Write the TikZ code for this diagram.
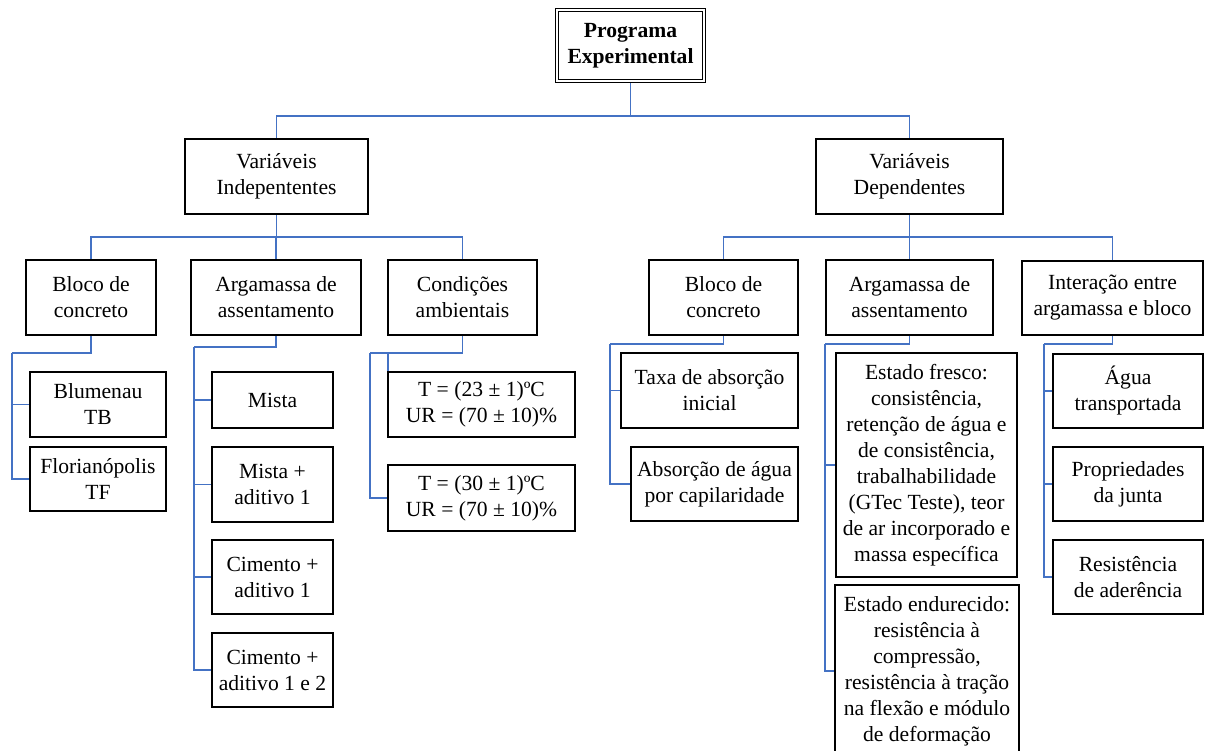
\documentclass[tikz,border=0pt]{standalone}
\usepackage{fontspec}
\setmainfont{Liberation Serif}
\definecolor{conncol}{RGB}{68,114,196}
\pgfdeclarelayer{bg}
\pgfsetlayers{bg,main}
\begin{document}
\begin{tikzpicture}[x=1pt,y=-1pt,
  conn/.style={draw=conncol, line width=1.2pt},
  bx/.style={draw=black, line width=1.1pt, fill=white, align=center, inner sep=0pt,
    font=\fontsize{21.6}{26}\selectfont},
  sz/.style 2 args={minimum width=#1pt, minimum height=#2pt}]
\useasboundingbox (0,0) rectangle (1212,751);

% top
\node[bx, sz={147}{71}, double=white, double distance=2pt, line width=1pt] (prog) at (630.5,45.5) {\textbf{Programa}\\\textbf{Experimental}};
% level 2
\node[bx, sz={183}{75}] (vi) at (276.5,176.5) {Variáveis\\Indepententes};
\node[bx, sz={187}{75}] (vd) at (909.5,176.5) {Variáveis\\Dependentes};
% level 3 left
\node[bx, sz={130}{75}] (lb) at (91,297.5) {Bloco de\\concreto};
\node[bx, sz={170}{75}] (la) at (276,297.5) {Argamassa de\\assentamento};
\node[bx, sz={149}{75}] (lc) at (462.5,297.5) {Condições\\ambientais};
% level 3 right
\node[bx, sz={149}{75}] (rb) at (723.5,297.5) {Bloco de\\concreto};
\node[bx, sz={167}{75}] (ra) at (909.5,297.5) {Argamassa de\\assentamento};
\node[bx, sz={181}{74}] (ri) at (1112.5,298) {Interação entre\\argamassa e bloco};
% leaves under left Bloco
\node[bx, sz={136}{65}] (blu) at (98,404.5) {Blumenau\\TB};
\node[bx, sz={136}{64}] (flo) at (98,479) {Florianópolis\\TF};
% leaves under left Argamassa
\node[bx, sz={121}{56}] (mista) at (272.5,400) {Mista};
\node[bx, sz={121}{75}] (m1) at (272.5,484.5) {Mista +\\aditivo 1};
\node[bx, sz={121}{74}] (c1) at (272.5,577) {Cimento +\\aditivo 1};
\node[bx, sz={121}{74}] (c12) at (272.5,670) {Cimento +\\aditivo 1 e 2};
% leaves under Condicoes
\node[bx, sz={187}{65}] (t23) at (481.5,404.5) {T = (23 ± 1)ºC\\UR = (70 ± 10)\%};
\node[bx, sz={187}{66}] (t30) at (481.5,498) {T = (30 ± 1)ºC\\UR = (70 ± 10)\%};
% leaves under right Bloco
\node[bx, sz={177}{75}] (taxa) at (709.5,390.5) {Taxa de absorção\\inicial};
\node[bx, sz={167}{74}] (abs) at (714.5,484) {Absorção de água\\por capilaridade};
% leaves under right Argamassa
\node[bx, sz={181}{224}] (ef) at (926.5,465) {Estado fresco:\\consistência,\\retenção de água e\\de consistência,\\trabalhabilidade\\(GTec Teste), teor\\de ar incorporado e\\massa específica};
\node[bx, sz={184}{172}] (ee) at (927,671) {Estado endurecido:\\resistência à\\compressão,\\resistência à tração\\na flexão e módulo\\de deformação};
% leaves under Interacao
\node[bx, sz={150}{74}] (agua) at (1128,391) {Água\\transportada};
\node[bx, sz={150}{74}] (prop) at (1128,484) {Propriedades\\da junta};
\node[bx, sz={150}{74}] (res) at (1128,577) {Resistência\\de aderência};

% junction coordinates
\coordinate (j0) at (630.5,116);
\coordinate (jl) at (276.5,237);
\coordinate (jr) at (909.5,237);
\coordinate (jlb) at (12,353);
\coordinate (jla) at (194,347);
\coordinate (jlc) at (370,353);
\coordinate (jlc2) at (388,353);
\coordinate (jrb) at (610,344);
\coordinate (jra) at (825,344);
\coordinate (jri) at (1044,344);

\begin{pgfonlayer}{bg}
\fill[white] (0,0) rectangle (1212,751);
\draw[conn] (prog.south) -- (j0);
\draw[conn] (j0) -| (vi.north);
\draw[conn] (j0) -| (vd.north);

\draw[conn] (vi.south) -- (jl);
\draw[conn] (jl) -| (lb.north);
\draw[conn] (jl) -| (lc.north);
\draw[conn] (jl) -| (la.north);

\draw[conn] (vd.south) -- (jr);
\draw[conn] (jr) -| (rb.north);
\draw[conn] (jr) -| (ri.north);
\draw[conn] (jr) -| (ra.north);

\draw[conn] (lb.south) |- (jlb);
\draw[conn] (jlb) |- (flo.west);
\draw[conn] (jlb) |- (blu.west);

\draw[conn] (la.south) |- (jla);
\draw[conn] (jla) |- (c12.west);
\draw[conn] (jla) |- (c1.west);
\draw[conn] (jla) |- (m1.west);
\draw[conn] (jla) |- (mista.west);

\draw[conn] (lc.south) |- (jlc);
\draw[conn] (jlc) |- (t30.west);
\draw[conn] (jlc2) -- (jlc2 |- t23.west);

\draw[conn] (rb.south) |- (jrb);
\draw[conn] (jrb) |- (abs.west);
\draw[conn] (jrb) |- (taxa.west);

\draw[conn] (ra.south) |- (jra);
\draw[conn] (jra) |- (ee.west);
\draw[conn] (jra) |- (ef.west);

\draw[conn] (ri.south) |- (jri);
\draw[conn] (jri) |- (res.west);
\draw[conn] (jri) |- (prop.west);
\draw[conn] (jri) |- (agua.west);
\end{pgfonlayer}
\end{tikzpicture}
\end{document}
